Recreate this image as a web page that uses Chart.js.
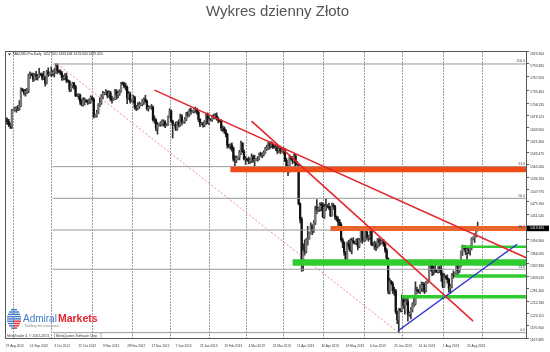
<!DOCTYPE html>
<html>
<head>
<meta charset="utf-8">
<title>Wykres dzienny Złoto</title>
<script src="https://cdn.jsdelivr.net/npm/chart.js@4.4.1/dist/chart.umd.min.js"></script>
<style>
    html, body { margin: 0; padding: 0; background: #fff; }
    canvas { display: block; }
</style>
</head>
<body>
<canvas id="goldChart" width="550" height="352"></canvas>
<script>
// XAUUSD daily bars, 27 Aug 2012 - 28 Aug 2013 (Sun-Fri sessions, like the broker feed)
const opens = [
    1670,1665,1664,1657,1655,1690,1691,1693,1695,1694,
    1701,1738,1735,1730,1733,1734,1768,1772,1770,1761,
    1771,1767,1768,1773,1771,1764,1765,1752,1778,1772,
    1774,1775,1777,1777,1792,1780,1778,1775,1764,1764,
    1768,1758,1756,1738,1746,1752,1744,1724,1723,1725,
    1709,1702,1712,1712,1710,1709,1710,1719,1715,1676,
    1678,1684,1702,1706,1720,1728,1729,1732,1724,1730,
    1716,1714,1716,1733,1725,1728,1733,1752,1750,1745,
    1743,1718,1727,1711,1712,1719,1696,1694,1699,1702,
    1704,1711,1715,1711,1694,1696,1697,1697,1669,1667,
    1649,1657,1658,1659,1663,1663,1656,1657,1675,1688,
    1665,1656,1657,1647,1662,1656,1676,1662,1664,1669,
    1682,1679,1689,1687,1688,1692,1692,1685,1669,1658,
    1660,1656,1662,1678,1661,1669,1668,1675,1676,1677,
    1671,1667,1665,1649,1649,1643,1635,1610,1607,1610,
    1603,1578,1576,1580,1582,1592,1614,1595,1578,1578,
    1576,1573,1575,1583,1575,1577,1578,1578,1590,1587,
    1588,1592,1602,1604,1614,1607,1614,1606,1605,1605,
    1596,1605,1597,1598,1600,1575,1557,1554,1581,1578,
    1574,1585,1557,1564,1476,1440,1348,1368,1366,1391,
    1395,1407,1424,1413,1432,1467,1462,1465,1475,1472,
    1446,1468,1470,1469,1467,1449,1472,1469,1446,1440,
    1434,1428,1393,1386,1365,1350,1384,1378,1369,1391,
    1387,1386,1390,1378,1392,1413,1392,1394,1411,1398,
    1398,1414,1383,1381,1383,1378,1391,1387,1388,1390,
    1383,1369,1351,1277,1298,1293,1277,1276,1229,1210,
    1234,1231,1254,1243,1250,1252,1223,1225,1234,1246,
    1247,1278,1277,1275,1283,1291,1290,1277,1295,1300,
    1335,1334,1321,1324,1322,1320,1328,1325,1313,1286,
    1310,1306,1302,1282,1286,1313,1312,1316,1335,1322,
    1334,1366,1377,1374,1366,1372,1369,1376,1395,1398,
    1404,1417.02
];
const highs = [
    1674,1672,1669,1661,1692,1693,1697,1698,1701,1712,
    1741,1740,1738,1738,1740,1773,1778,1775,1775,1774,
    1779,1772,1786,1775,1775,1779,1768,1781,1787,1775,
    1789,1781,1785,1796,1796,1782,1783,1779,1770,1774,
    1775,1760,1758,1748,1754,1754,1747,1727,1728,1727,
    1715,1719,1718,1714,1714,1716,1723,1722,1718,1680,
    1690,1705,1718,1726,1733,1731,1737,1734,1735,1733,
    1722,1718,1738,1737,1734,1737,1754,1755,1754,1752,
    1746,1733,1731,1714,1724,1722,1701,1707,1709,1706,
    1715,1718,1724,1713,1701,1699,1703,1700,1677,1671,
    1662,1660,1664,1668,1668,1666,1659,1677,1693,1691,
    1667,1659,1663,1664,1668,1681,1680,1665,1673,1685,
    1687,1693,1695,1690,1696,1697,1694,1688,1671,1662,
    1663,1666,1682,1684,1675,1671,1678,1681,1682,1684,
    1674,1669,1668,1654,1652,1646,1637,1612,1613,1615,
    1606,1586,1585,1584,1598,1619,1616,1599,1584,1580,
    1583,1580,1590,1587,1587,1580,1584,1592,1594,1592,
    1597,1605,1610,1616,1617,1618,1616,1609,1613,1608,
    1607,1608,1600,1605,1602,1580,1564,1587,1584,1584,
    1590,1589,1573,1566,1478,1445,1384,1393,1396,1424,
    1410,1432,1428,1437,1470,1485,1468,1478,1479,1478,
    1475,1488,1474,1477,1470,1477,1476,1472,1448,1446,
    1440,1432,1397,1389,1366,1388,1392,1395,1397,1398,
    1390,1395,1397,1396,1415,1419,1396,1416,1415,1404,
    1417,1420,1386,1390,1388,1396,1397,1395,1392,1394,
    1387,1374,1352,1305,1300,1297,1285,1280,1230,1236,
    1236,1267,1260,1262,1258,1262,1228,1238,1249,1264,
    1297,1285,1280,1290,1297,1296,1295,1298,1302,1337,
    1348,1336,1333,1338,1325,1332,1333,1335,1317,1316,
    1311,1313,1305,1291,1316,1322,1318,1340,1338,1339,
    1368,1381,1380,1380,1375,1378,1380,1398,1400,1407,
    1424,1433.608
];
const lows = [
    1659,1657,1652,1648,1648,1688,1688,1685,1689,1690,
    1698,1733,1725,1722,1728,1730,1762,1768,1755,1758,
    1760,1759,1765,1769,1759,1760,1745,1750,1767,1770,
    1767,1769,1766,1775,1773,1776,1771,1758,1759,1760,
    1753,1754,1732,1733,1741,1738,1721,1721,1715,1703,
    1700,1699,1702,1708,1703,1705,1706,1711,1672,1674,
    1674,1682,1698,1703,1716,1725,1726,1718,1720,1711,
    1706,1712,1714,1715,1718,1724,1731,1748,1741,1736,
    1705,1715,1706,1709,1707,1692,1689,1691,1694,1700,
    1700,1703,1707,1690,1688,1694,1692,1665,1660,1643,
    1635,1654,1653,1655,1653,1650,1654,1655,1673,1662,
    1626,1654,1643,1644,1651,1653,1656,1660,1660,1666,
    1674,1676,1680,1685,1683,1685,1680,1664,1652,1656,
    1651,1652,1657,1659,1657,1666,1664,1670,1670,1667,
    1661,1663,1643,1641,1637,1629,1603,1604,1600,1596,
    1573,1555,1570,1577,1576,1588,1592,1576,1566,1574,
    1567,1568,1570,1571,1561,1575,1573,1576,1584,1581,
    1585,1590,1598,1600,1601,1604,1602,1603,1597,1590,
    1593,1590,1594,1590,1572,1550,1540,1548,1575,1567,
    1570,1552,1554,1473,1432,1321,1322,1358,1363,1381,
    1394,1406,1405,1410,1428,1453,1458,1458,1460,1444,
    1442,1460,1466,1462,1446,1447,1463,1440,1436,1425,
    1420,1390,1375,1358,1338,1340,1371,1366,1361,1384,
    1383,1382,1370,1375,1388,1385,1390,1390,1394,1390,
    1394,1380,1379,1371,1368,1374,1378,1381,1385,1378,
    1364,1344,1270,1269,1290,1270,1266,1224,1201,1180,
    1228,1228,1236,1223,1244,1207,1218,1212,1228,1240,
    1244,1270,1272,1270,1275,1274,1270,1274,1293,1298,
    1322,1311,1313,1318,1318,1317,1318,1298,1283,1284,
    1303,1294,1273,1270,1283,1305,1310,1313,1311,1318,
    1331,1357,1370,1359,1347,1361,1358,1370,1393,1387,
    1399,1413.3
];
const closes = [
    1665,1664,1657,1655,1690,1691,1693,1695,1694,1701,
    1738,1735,1730,1733,1734,1768,1772,1770,1761,1771,
    1767,1768,1773,1771,1764,1765,1752,1778,1772,1774,
    1775,1777,1777,1792,1780,1778,1775,1764,1764,1768,
    1758,1756,1738,1746,1752,1744,1724,1723,1725,1709,
    1702,1712,1712,1710,1709,1710,1719,1715,1676,1678,
    1684,1702,1706,1720,1728,1729,1732,1724,1730,1716,
    1714,1716,1733,1725,1728,1733,1752,1750,1745,1743,
    1718,1727,1711,1712,1719,1696,1694,1699,1702,1704,
    1711,1715,1711,1694,1696,1697,1697,1669,1667,1649,
    1657,1658,1659,1663,1663,1656,1657,1675,1688,1665,
    1656,1657,1647,1662,1656,1676,1662,1664,1669,1682,
    1679,1689,1687,1688,1692,1692,1685,1669,1658,1660,
    1656,1662,1678,1661,1669,1668,1675,1676,1677,1671,
    1667,1665,1649,1649,1643,1635,1610,1607,1610,1603,
    1578,1576,1580,1582,1592,1614,1595,1578,1578,1576,
    1573,1575,1583,1575,1577,1578,1578,1590,1587,1588,
    1592,1602,1604,1614,1607,1614,1606,1605,1605,1596,
    1605,1597,1598,1600,1575,1557,1554,1581,1578,1574,
    1585,1557,1564,1476,1440,1348,1368,1366,1391,1395,
    1407,1424,1413,1432,1467,1462,1465,1475,1472,1446,
    1468,1470,1469,1467,1449,1472,1469,1446,1440,1434,
    1428,1393,1386,1365,1350,1384,1378,1369,1391,1387,
    1386,1390,1378,1392,1413,1392,1394,1411,1398,1398,
    1414,1383,1381,1383,1378,1391,1387,1388,1390,1383,
    1369,1351,1277,1298,1293,1277,1276,1229,1210,1234,
    1231,1254,1243,1250,1252,1223,1225,1234,1246,1247,
    1278,1277,1275,1283,1291,1290,1277,1295,1300,1335,
    1334,1321,1324,1322,1320,1328,1325,1313,1286,1310,
    1306,1302,1282,1286,1313,1312,1316,1335,1322,1334,
    1366,1377,1374,1366,1372,1369,1376,1395,1398,1404,
    1417,1419.32
];

// axis labels as printed by the terminal
const dateTicks = [
    '27 Aug 2012', '14 Sep 2012', '3 Oct 2012', '22 Oct 2012', '9 Nov 2012',
    '28 Nov 2012', '17 Dec 2012', '7 Jan 2013', '25 Jan 2013', '13 Feb 2013',
    '4 Mar 2013', '22 Mar 2013', '11 Apr 2013', '30 Apr 2013', '19 May 2013',
    '6 Jun 2013', '25 Jun 2013', '14 Jul 2013', '1 Aug 2013', '20 Aug 2013'
];
const priceTicks = [
    1823.350, 1795.835, 1767.620, 1735.405, 1706.235, 1678.125, 1649.905, 1621.690,
    1593.475, 1565.260, 1536.190, 1507.975, 1479.760, 1451.545, 1423.330, 1394.360,
    1366.095, 1337.830, 1309.615, 1281.400, 1252.330, 1224.115, 1195.900, 1167.685
];

// drawn objects: [startBar, startPrice, endBar, endPrice]
const redTrendLong = [98, 1736, 343, 1352];
const redTrendSteep = [162, 1665, 308, 1207];
const blueTrend = [259, 1186, 337, 1383];
// fibonacci retracement between the Oct 2012 high and the Jun 2013 low
const fibHigh = [34, 1795.8];
const fibLow = [259, 1180.5];
const fibLevels = [0, 23.6, 38.2, 50, 61.8, 100];
const fibStartBar = 31;
// zones: [fromBar, price]
const orangeZones = [[148, 1554], [214, 1419]];
const greenZones = [[189, 1341], [300, 1377], [296, 1310], [261, 1263]];

const monthNames = ['Jan', 'Feb', 'Mar', 'Apr', 'May', 'Jun', 'Jul', 'Aug', 'Sep', 'Oct', 'Nov', 'Dec'];
const closedDays = ['25 Dec 2012', '1 Jan 2013', '29 Mar 2013'];
const totalSlots = 344; // bars plus the empty shift area on the right

function buildCalendar(startY, startM, startD, count) {
    const days = [];
    const monthStart = [];
    let y = startY, m = startM, d = startD;
    let lastMonth = m;
    while (days.length < count) {
        const dt = new Date(y, m, d, 12, 0, 0);
        const label = `${dt.getDate()} ${monthNames[dt.getMonth()]} ${dt.getFullYear()}`;
        if (dt.getDay() !== 6 && closedDays.indexOf(label) < 0) {
            monthStart.push(dt.getMonth() !== lastMonth);
            lastMonth = dt.getMonth();
            days.push(label);
        }
        d += 1;
        const norm = new Date(y, m, d, 12, 0, 0);
        y = norm.getFullYear(); m = norm.getMonth(); d = norm.getDate();
    }
    return { days, monthStart };
}

const calendar = buildCalendar(2012, 7, 27, totalSlots);

function segment(i0, v0, i1, v1) {
    const arr = new Array(totalSlots).fill(null);
    arr[i0] = v0;
    arr[i1] = v1;
    return arr;
}

function lineSet(data, color, width, order, dash) {
    return {
        type: 'line',
        data: data,
        borderColor: color,
        borderWidth: width,
        borderDash: dash || [],
        borderCapStyle: 'butt',
        pointRadius: 0,
        spanGaps: true,
        tension: 0,
        order: order
    };
}

const fibPrice = level => fibLow[1] + (fibHigh[1] - fibLow[1]) * level / 100;

const datasets = [
    {
        label: 'wick',
        data: lows.map((l, i) => [l, highs[i]]),
        backgroundColor: '#333',
        barThickness: 1,
        grouped: false,
        order: 6
    },
    {
        label: 'body',
        data: opens.map((o, i) => [o, closes[i]]),
        backgroundColor: opens.map((o, i) => closes[i] >= o ? '#777' : '#111'),
        barThickness: 1.6,
        grouped: false,
        order: 5
    }
];

fibLevels.forEach(level => {
    const p = fibPrice(level);
    datasets.push(lineSet(segment(fibStartBar, p, totalSlots - 1, p), '#9a9a9a', 1, 4));
});
datasets.push(lineSet(segment(fibHigh[0], fibHigh[1], fibLow[0], fibLow[1]), '#f08a8a', 1, 4, [2, 2]));

const orangeStyle = [['#ef4c17', 5.5], ['#e9652e', 5]];
orangeZones.forEach((z, k) => {
    datasets.push(lineSet(segment(z[0], z[1], totalSlots - 1, z[1]), orangeStyle[k][0], orangeStyle[k][1], 3));
});
const greenWidths = [6.5, 2.5, 3.5, 3.5];
greenZones.forEach((z, k) => {
    datasets.push(lineSet(segment(z[0], z[1], totalSlots - 1, z[1]), '#2fcc2f', greenWidths[k], 3));
});

[redTrendLong, redTrendSteep].forEach(t => {
    datasets.push(lineSet(segment(t[0], t[1], t[2], t[3]), '#e3262b', 1.5, 1));
});
datasets.push(lineSet(segment(blueTrend[0], blueTrend[1], blueTrend[2], blueTrend[3]), '#2b2fd0', 1.5, 1));

function drawMonthLines(chart) {
    // dotted month separators; the terminal leaves the shift area clear
    const ctx = chart.ctx;
    const area = chart.chartArea;
    const x = chart.scales.x;
    ctx.save();
    ctx.fillStyle = '#9c9c9c';
    for (let i = 0; i < calendar.monthStart.length; i++) {
        if (!calendar.monthStart[i] || i > closes.length + 10) continue;
        const px = Math.round(x.getPixelForValue(i));
        for (let py = Math.ceil(area.top) + 1; py < area.bottom - 1; py += 3) {
            ctx.fillRect(px, py, 1, 2);
        }
    }
    ctx.restore();
}

const terminalDecor = {
    id: 'terminalDecor',
    beforeDatasetsDraw(chart) {
        drawMonthLines(chart);
    },
    afterDraw(chart) {
        const ctx = chart.ctx;
        const area = chart.chartArea;
        const y = chart.scales.y;
        const font = 'Liberation Sans';

        ctx.save();
        // chart frame
        ctx.strokeStyle = '#555';
        ctx.lineWidth = 1;
        ctx.setLineDash([]);
        ctx.strokeRect(area.left + 0.5, area.top + 0.5, area.right - area.left - 1, area.bottom - area.top - 1);

        // symbol line, top left
        const last = closes.length - 1;
        ctx.fillStyle = '#222';
        ctx.beginPath();
        ctx.moveTo(8, 53.5); ctx.lineTo(11, 53.5); ctx.lineTo(9.5, 55.5); ctx.closePath();
        ctx.fill();
        ctx.font = `3.4px "${font}"`;
        ctx.textBaseline = 'middle';
        ctx.textAlign = 'left';
        ctx.fillText(`XAUUSD.Pro,Daily  ${opens[last].toFixed(3)} ${highs[last].toFixed(3)} ${lows[last].toFixed(3)} ${closes[last].toFixed(3)}`, 12.5, 54.5);

        // fib level captions
        ctx.textAlign = 'right';
        ctx.fillStyle = '#444';
        fibLevels.forEach(level => {
            ctx.fillText(level.toFixed(1), area.right - 2, y.getPixelForValue(fibPrice(level)) - 2.5);
        });

        // copyright strip
        ctx.textAlign = 'left';
        ctx.fillStyle = '#333';
        ctx.fillText('MetaTrader 4, © 2001-2013,', 7, area.bottom - 3);
        ctx.fillText('MetaQuotes Software Corp.', 56, area.bottom - 3);
        ctx.strokeStyle = '#888';
        ctx.lineWidth = 0.6;
        ctx.beginPath();
        ctx.moveTo(54.5, area.bottom - 6); ctx.lineTo(54.5, area.bottom);
        ctx.moveTo(101, area.bottom - 6); ctx.lineTo(101, area.bottom);
        ctx.stroke();

        // broker logo
        const rows = [6, 10, 12, 14, 14, 14, 12, 10, 6];
        rows.forEach((w, r) => {
            const ry = 309 + r * 2.3;
            ctx.fillStyle = '#3f7bc6';
            ctx.fillRect(14 - w / 2, ry, r < 5 ? w : w / 2, 1.4);
            if (r >= 5) {
                ctx.fillStyle = '#e2262e';
                ctx.fillRect(14, ry, w / 2, 1.4);
            }
        });
        ctx.textBaseline = 'alphabetic';
        ctx.font = `10px "${font}"`;
        ctx.fillStyle = '#3f7bc6';
        ctx.fillText('Admiral', 23, 321.5);
        const aw = ctx.measureText('Admiral').width;
        ctx.font = `bold 10.5px "${font}"`;
        ctx.fillStyle = '#e2262e';
        ctx.fillText('Markets', 23 + aw + 1, 321.5);
        ctx.font = `3.8px "${font}"`;
        ctx.fillStyle = '#888';
        ctx.fillText('Trading for everyone', 24, 327);

        // current price marker on the price scale
        const py = y.getPixelForValue(closes[last]);
        ctx.fillStyle = '#000';
        ctx.fillRect(area.right, py - 2.8, 22, 5.6);
        ctx.fillStyle = '#fff';
        ctx.font = `3.4px "${font}"`;
        ctx.textBaseline = 'middle';
        ctx.fillText(closes[last].toFixed(3), area.right + 3, py);

        ctx.restore();
    }
};

new Chart(document.getElementById('goldChart'), {
    type: 'bar',
    data: { labels: calendar.days, datasets: datasets },
    options: {
        responsive: false,
        devicePixelRatio: 1,
        animation: false,
        events: [],
        layout: { padding: { left: 5, right: 0, top: 0, bottom: 0 } },
        plugins: {
            legend: { display: false },
            tooltip: { enabled: false },
            title: {
                display: true,
                text: 'Wykres dzienny Złoto',
                color: '#555',
                font: { family: 'Liberation Sans', size: 15, weight: 'normal' },
                padding: { top: 3, bottom: 30 }
            }
        },
        scales: {
            x: {
                type: 'category',
                offset: true,
                afterFit: scale => { scale.height = 13; },
                border: { display: false },
                grid: { display: true, drawOnChartArea: false, drawTicks: false, color: 'rgba(0,0,0,0)' },
                ticks: {
                    autoSkip: false,
                    maxRotation: 0,
                    minRotation: 0,
                    align: 'start',
                    padding: 5,
                    color: '#333',
                    font: { family: 'Liberation Sans', size: 3.2 },
                    callback: function (value) {
                        const label = this.getLabelForValue(value);
                        return dateTicks.includes(label) ? label : '';
                    }
                }
            },
            y: {
                position: 'right',
                min: 1166,
                max: 1825.5,
                afterFit: scale => { scale.width = 23; },
                afterBuildTicks: scale => { scale.ticks = priceTicks.map(v => ({ value: v })); },
                border: { display: false },
                grid: { drawOnChartArea: false, drawTicks: true, tickLength: 2, color: '#555' },
                ticks: {
                    autoSkip: false,
                    padding: 1,
                    labelOffset: 2,
                    color: '#333',
                    font: { family: 'Liberation Sans', size: 3.4 },
                    callback: v => Number(v).toFixed(3)
                }
            }
        }
    },
    plugins: [terminalDecor]
});
</script>
</body>
</html>
